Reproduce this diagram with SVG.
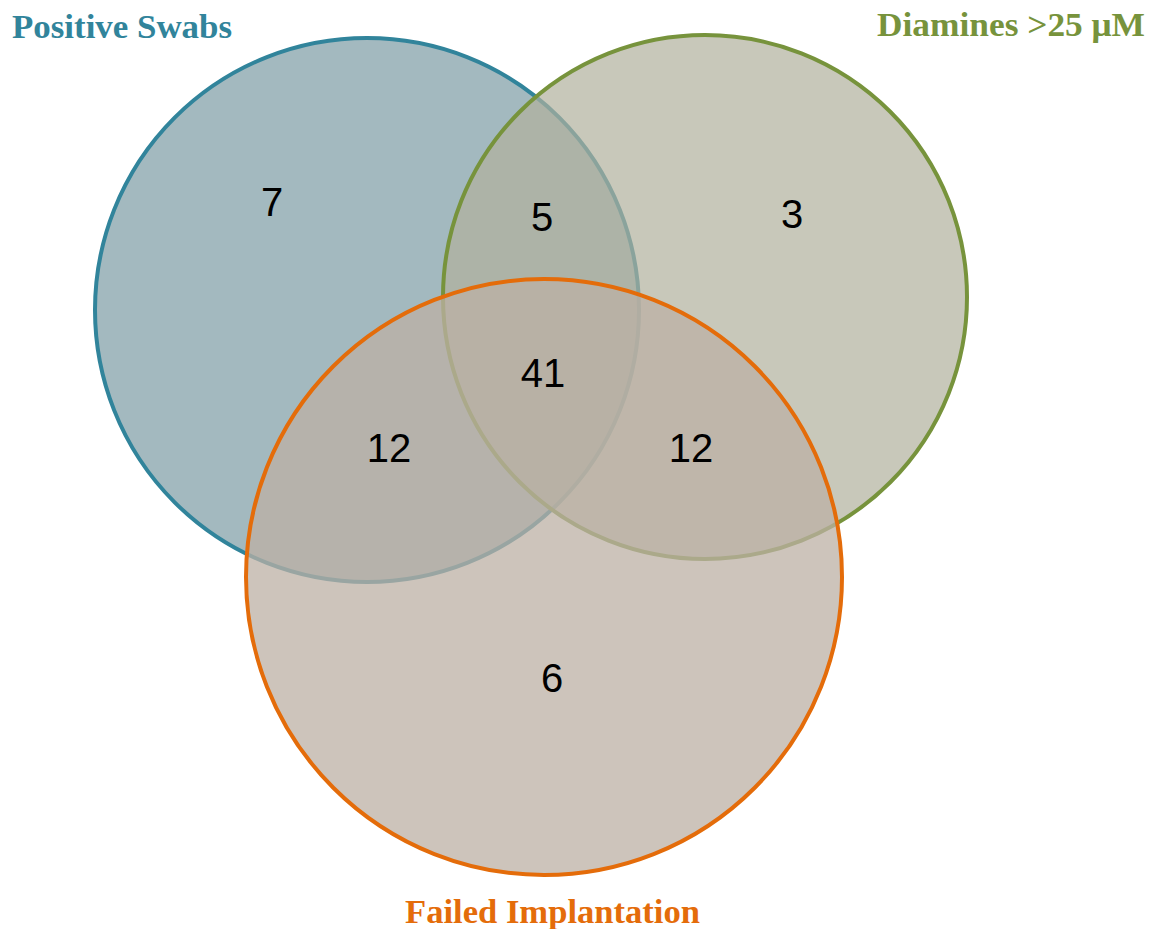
<svg xmlns="http://www.w3.org/2000/svg" width="1153" height="929" viewBox="0 0 1153 929">
<style>
.set{stroke-width:4}
.num{font-family:"Liberation Sans",Arial,sans-serif;font-size:40px;fill:#000;text-anchor:middle}
.title{font-family:"Liberation Serif","Times New Roman",serif;font-weight:bold;font-size:33px}
</style>
<rect width="1153" height="929" fill="#fff"/>
<g id="set-positive-swabs">
<circle class="set" cx="367" cy="310" r="272" fill="#7f9ea6" fill-opacity="0.72" stroke="#31849B"/>
<text class="title" x="12" y="38" fill="#31849B" textLength="220" lengthAdjust="spacingAndGlyphs">Positive Swabs</text>
</g>
<g id="set-diamines">
<circle class="set" cx="705" cy="297" r="262" fill="#b0b09c" fill-opacity="0.7" stroke="#77933C"/>
<text class="title" x="877" y="36" fill="#77933C" textLength="268" lengthAdjust="spacingAndGlyphs">Diamines &gt;25 μM</text>
</g>
<g id="set-failed-implantation">
<circle class="set" cx="544" cy="577" r="298" fill="#bcb0a4" fill-opacity="0.75" stroke="#E46C0A"/>
<text class="title" x="405" y="923" fill="#E46C0A" textLength="295" lengthAdjust="spacingAndGlyphs">Failed Implantation</text>
</g>
<g id="connectors"></g>
<g id="counts">
<text class="num" x="272" y="216">7</text>
<text class="num" x="542" y="231">5</text>
<text class="num" x="792" y="228">3</text>
<text class="num" x="543" y="387">41</text>
<text class="num" x="389" y="462">12</text>
<text class="num" x="691" y="462">12</text>
<text class="num" x="552" y="692">6</text>
</g>
</svg>
